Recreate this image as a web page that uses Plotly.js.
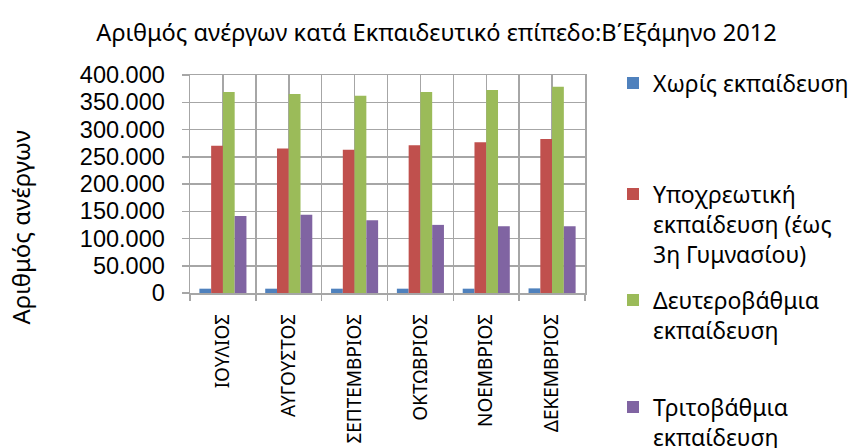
<!DOCTYPE html>
<html>
<head>
<meta charset="utf-8">
<script src="https://cdn.plot.ly/plotly-3.0.1.min.js"></script>
<style>html,body{margin:0;padding:0;background:#fff;}#chart{width:854px;height:448px;}</style>
</head>
<body>
<div id="chart"></div>
<script>
const months = ["ΙΟΥΛΙΟΣ", "ΑΥΓΟΥΣΤΟΣ", "ΣΕΠΤΕΜΒΡΙΟΣ", "ΟΚΤΩΒΡΙΟΣ", "ΝΟΕΜΒΡΙΟΣ", "ΔΕΚΕΜΒΡΙΟΣ"];
const noEducation = [7900, 7900, 7900, 7900, 7900, 8500];
const compulsory = [270000, 265000, 263000, 271000, 276500, 282500];
const secondary = [369000, 365000, 362000, 369000, 372500, 378500];
const tertiary = [141500, 143500, 133500, 125000, 122500, 122500];
const seriesNames = [
  "Χωρίς εκπαίδευση",
  "Υποχρεωτική<br>εκπαίδευση (έως<br>3η Γυμνασίου)",
  "Δευτεροβάθμια<br>εκπαίδευση",
  "Τριτοβάθμια<br>εκπαίδευση"
];
const seriesColors = ["#4F81BD", "#C0504D", "#9BBB59", "#8064A2"];
const yTickVals = [0, 50000, 100000, 150000, 200000, 250000, 300000, 350000, 400000];
const chartTitle = "Αριθμός ανέργων κατά Εκπαιδευτικό επίπεδο:Β΄Εξάμηνο 2012";
const yTitle = "Αριθμός ανέργων";

const FONT = "Noto Sans, Open Sans, sans-serif";
const TICKFONT = "Liberation Sans, Arial, sans-serif";
const seriesValues = [noEducation, compulsory, secondary, tertiary];
const legendIds = ["legend", "legend2", "legend3", "legend4"];

const traces = seriesValues.map((vals, i) => ({
  type: "bar",
  x: months,
  y: vals,
  name: seriesNames[i],
  marker: {color: seriesColors[i]},
  legend: legendIds[i],
  hoverinfo: "x+y+name"
}));
// invisible helper trace for category-centre gridlines
traces.push({
  type: "scatter", mode: "markers", x: months, y: months.map(() => 0),
  xaxis: "x2", marker: {opacity: 0}, showlegend: false, hoverinfo: "skip"
});

const gridC = "#A6A6A6";
const legendTops = [61.5, 172.5, 278.5, 385.5];
const legendBase = {
  xref: "container", yref: "container", x: 613 / 854, xanchor: "left", yanchor: "top",
  bgcolor: "rgba(0,0,0,0)", font: {family: FONT, size: 23, color: "#000"}, valign: "top"
};
const layout = {
  width: 854, height: 448,
  margin: {l: 190, r: 269, t: 75, b: 155},
  paper_bgcolor: "#fff", plot_bgcolor: "#fff",
  font: {family: FONT, color: "#000"},
  separators: ",.",
  barmode: "group", bargap: 0.285, bargroupgap: 0,
  title: {text: chartTitle, font: {family: FONT, size: 23.6, color: "#000"},
          xref: "container", yref: "container", x: 436.5 / 854, xanchor: "center",
          y: 1 - 33 / 448, yanchor: "middle"},
  xaxis: {
    type: "category", range: [-0.5, 5.5], tickson: "boundaries",
    showgrid: true, gridcolor: gridC, gridwidth: 1.5,
    showline: true, linecolor: gridC, linewidth: 1.5, mirror: true,
    ticks: "outside", ticklen: 6, tickcolor: gridC, tickwidth: 1.5,
    tickangle: -90, tickfont: {family: FONT, size: 19, color: "#000"},
    ticklabelstandoff: 12
  },
  xaxis2: {
    type: "category", overlaying: "x", range: [-0.5, 5.5], side: "bottom",
    showgrid: true, gridcolor: gridC, gridwidth: 1.5,
    showticklabels: false, ticks: "", showline: false, zeroline: false
  },
  yaxis: {
    range: [0, 400000], tickmode: "array", tickvals: yTickVals, tickformat: ",d",
    showgrid: true, gridcolor: gridC, gridwidth: 1.5, zeroline: false,
    showline: true, linecolor: gridC, linewidth: 1.5, mirror: true,
    ticks: "outside", ticklen: 7, tickcolor: gridC, tickwidth: 1.5,
    tickfont: {family: TICKFONT, size: 23.5, color: "#000"}, ticklabelstandoff: 12
  },
  annotations: [{
    text: yTitle, textangle: -90, showarrow: false,
    xref: "paper", yref: "paper", x: (20 - 190) / 395, y: (293 - 227.5) / 218,
    xanchor: "center", yanchor: "middle",
    font: {family: FONT, size: 24, color: "#000"}
  }]
};
legendIds.forEach((id, i) => {
  layout[id] = Object.assign({}, legendBase, {y: 1 - legendTops[i] / 448});
});

Plotly.newPlot("chart", traces, layout, {displayModeBar: false, staticPlot: true});
</script>
</body>
</html>
